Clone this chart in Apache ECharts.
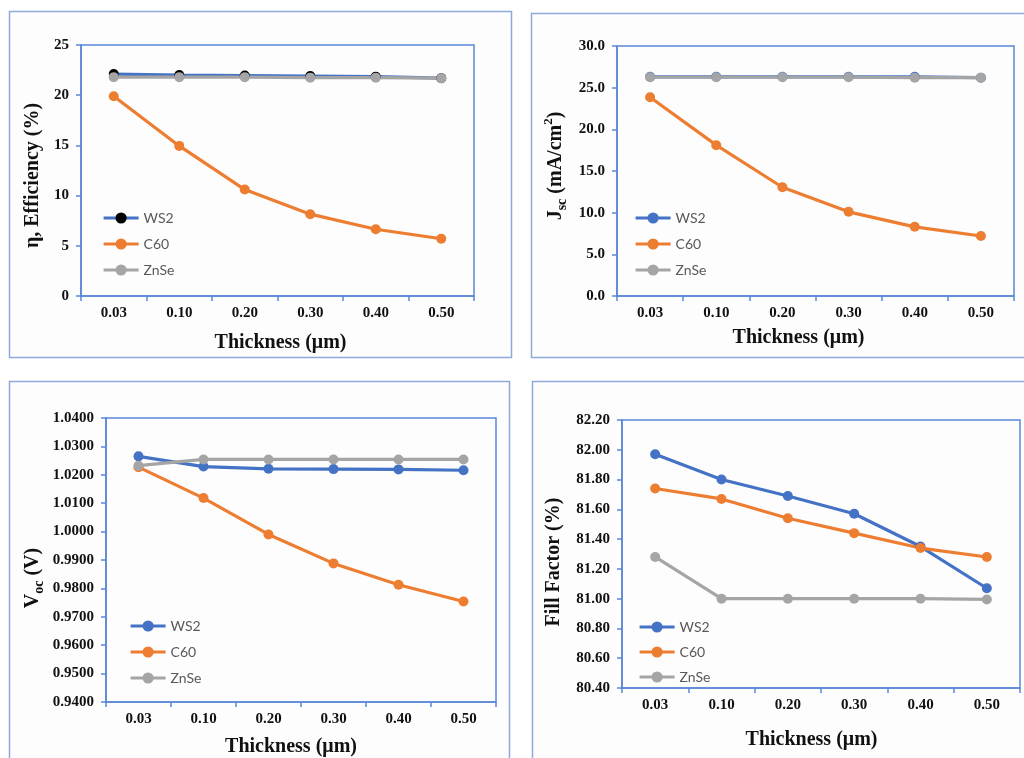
<!DOCTYPE html>
<html>
<head>
<meta charset="utf-8">
<script src="https://cdn.jsdelivr.net/npm/echarts@6/dist/echarts.min.js"></script>
<style>
html,body{margin:0;padding:0;background:#ffffff;}
#c{width:1024px;height:758px;}
</style>
</head>
<body>
<div id="c"></div>
<script>
// ---- data ----
var thickness = ['0.03', '0.10', '0.20', '0.30', '0.40', '0.50'];
var seriesNames = ['WS2', 'C60', 'ZnSe'];

var effWS2  = [22.1, 22.0, 21.95, 21.9, 21.85, 21.7];
var effC60  = [19.9, 14.95, 10.6, 8.15, 6.65, 5.7];
var effZnSe = [21.8, 21.8, 21.8, 21.75, 21.75, 21.7];

var jscWS2  = [26.3, 26.3, 26.3, 26.3, 26.3, 26.2];
var jscC60  = [23.85, 18.1, 13.05, 10.1, 8.3, 7.2];
var jscZnSe = [26.25, 26.25, 26.25, 26.25, 26.2, 26.2];

var vocWS2  = [1.0265, 1.0229, 1.0221, 1.0220, 1.0219, 1.0216];
var vocC60  = [1.0227, 1.0118, 0.9990, 0.9888, 0.9813, 0.9754];
var vocZnSe = [1.0232, 1.0254, 1.0254, 1.0254, 1.0254, 1.0254];

var ffWS2  = [81.97, 81.80, 81.69, 81.57, 81.35, 81.07];
var ffC60  = [81.74, 81.67, 81.54, 81.44, 81.34, 81.28];
var ffZnSe = [81.28, 81.00, 81.00, 81.00, 81.00, 80.995];

// ---- styles ----
var BLUE = '#4472C4', ORANGE = '#ED7D31', GREY = '#A5A5A5';
var AXIS = '#5A86D6';
var PANEL = '#8EAADB';
var SERIF = '"Liberation Serif", "Times New Roman", serif';

var chart = echarts.init(document.getElementById('c'), null, {renderer: 'canvas'});

var grids = [
  {left: 81,  top: 45,  width: 393, height: 251},
  {left: 617, top: 46,  width: 397, height: 250},
  {left: 106, top: 418, width: 390, height: 285},
  {left: 622, top: 420, width: 398, height: 268}
];
grids.forEach(function (g) { g.show = true; g.borderColor = AXIS; g.borderWidth = 1.5; g.backgroundColor = 'transparent'; });

var titleStyle = {fontFamily: SERIF, fontWeight: 'bold', fontSize: 20, color: '#111'};
var richName = {
  b: {fontFamily: SERIF, fontWeight: 'bold', fontSize: 20, color: '#111'},
  s: {fontFamily: SERIF, fontWeight: 'bold', fontSize: 14, color: '#111', verticalAlign: 'top', padding: [13, 0, 0, 0]},
  p: {fontFamily: SERIF, fontWeight: 'bold', fontSize: 13, color: '#111', verticalAlign: 'top', padding: [0, 0, 0, 0]}
};

function xAxis(i, gap, pad) {
  return {
    type: 'category', gridIndex: i, data: thickness, boundaryGap: true,
    name: 'Thickness (\u03bcm)', nameLocation: 'middle', nameGap: gap,
    nameTextStyle: Object.assign({}, titleStyle, {padding: pad}),
    axisLine: {lineStyle: {color: AXIS, width: 1.5}},
    axisTick: {show: true, length: 5, lineStyle: {color: AXIS, width: 1.5}},
    axisLabel: {fontFamily: SERIF, fontWeight: 'bold', fontSize: 15, color: '#111', margin: 10},
    splitLine: {show: false}
  };
}
function yAxis(i, min, max, interval, dec, name, gap, pad, rich) {
  var o = {
    type: 'value', gridIndex: i, min: min, max: max, interval: interval,
    name: name, nameLocation: 'middle', nameGap: gap,
    nameTextStyle: Object.assign({}, titleStyle, {padding: pad}),
    axisLine: {show: true, lineStyle: {color: AXIS, width: 1.5}},
    axisTick: {show: true, length: 5, lineStyle: {color: AXIS, width: 1.5}},
    axisLabel: {fontFamily: SERIF, fontWeight: 'bold', fontSize: 15, color: '#111', margin: 12,
      formatter: function (v) { return v.toFixed(dec); }},
    splitLine: {show: false}
  };
  if (rich) o.nameTextStyle.rich = rich;
  return o;
}

function line(name, data, i, color, markerColor) {
  return {
    type: 'line', name: name, data: data, xAxisIndex: i, yAxisIndex: i,
    symbol: 'circle', symbolSize: 10, showSymbol: true,
    lineStyle: {color: color, width: 3.2},
    itemStyle: {color: markerColor || color},
    emphasis: {disabled: true}, animation: false
  };
}

function legend(i, left, top, gap, first) {
  return {
    orient: 'vertical', left: left, top: top, itemWidth: 35, itemHeight: 14, itemGap: gap,
    selectedMode: false,
    textStyle: {fontFamily: 'Lato, "Liberation Sans", sans-serif', fontSize: 14, color: '#595959'},
    data: [
      {name: 'WS2', itemStyle: {color: first ? '#000000' : BLUE}, lineStyle: {color: BLUE, width: 3.2}},
      {name: 'C60', itemStyle: {color: ORANGE}, lineStyle: {color: ORANGE, width: 3.2}},
      {name: 'ZnSe', itemStyle: {color: GREY}, lineStyle: {color: GREY, width: 3.2}}
    ]
  };
}

var option = {
  backgroundColor: '#ffffff',
  animation: false,
  graphic: [
    {type: 'rect', shape: {x: 9.5, y: 11.5, width: 502, height: 346}, style: {fill: '#fdfdfd', stroke: PANEL, lineWidth: 1.5}, z: -10},
    {type: 'rect', shape: {x: 531.5, y: 13.5, width: 520, height: 344}, style: {fill: '#fdfdfd', stroke: PANEL, lineWidth: 1.5}, z: -10},
    {type: 'rect', shape: {x: 9.5, y: 381.5, width: 500, height: 420}, style: {fill: '#fdfdfd', stroke: PANEL, lineWidth: 1.5}, z: -10},
    {type: 'rect', shape: {x: 532.5, y: 381.5, width: 520, height: 420}, style: {fill: '#fdfdfd', stroke: PANEL, lineWidth: 1.5}, z: -10}
  ],
  grid: grids,
  xAxis: [
    xAxis(0, 37, [0, 0, 0, 6]),
    xAxis(1, 32, [0, 34, 0, 0]),
    xAxis(2, 35, [0, 20, 0, 0]),
    xAxis(3, 42, [0, 19, 0, 0])
  ],
  yAxis: [
    yAxis(0, 0, 25, 5, 0, '\u03b7, Efficiency (%)', 38, [0, 10, 0, 0]),
    yAxis(1, 0, 30, 5, 1, '{b|J}{s|sc}{b| (mA/cm}{p|2}{b|)}', 48, [0, 0, 0, 10], richName),
    yAxis(2, 0.94, 1.04, 0.01, 4, '{b|V}{s|oc}{b| (V)}', 60, [0, 36, 0, 0], richName),
    yAxis(3, 80.4, 82.2, 0.2, 2, 'Fill Factor (%)', 58, [0, 16, 0, 0])
  ],
  legend: [
    legend(0, 97, 206, 12, true),
    legend(1, 629, 206, 12, false),
    legend(2, 124, 614, 12, false),
    legend(3, 633, 615, 11, false)
  ],
  series: [
    line('WS2', effWS2, 0, BLUE, '#000000'),
    line('C60', effC60, 0, ORANGE),
    line('ZnSe', effZnSe, 0, GREY),
    line('WS2', jscWS2, 1, BLUE),
    line('C60', jscC60, 1, ORANGE),
    line('ZnSe', jscZnSe, 1, GREY),
    line('WS2', vocWS2, 2, BLUE),
    line('C60', vocC60, 2, ORANGE),
    line('ZnSe', vocZnSe, 2, GREY),
    line('WS2', ffWS2, 3, BLUE),
    line('C60', ffC60, 3, ORANGE),
    line('ZnSe', ffZnSe, 3, GREY)
  ]
};
chart.setOption(option);
</script>
</body>
</html>
